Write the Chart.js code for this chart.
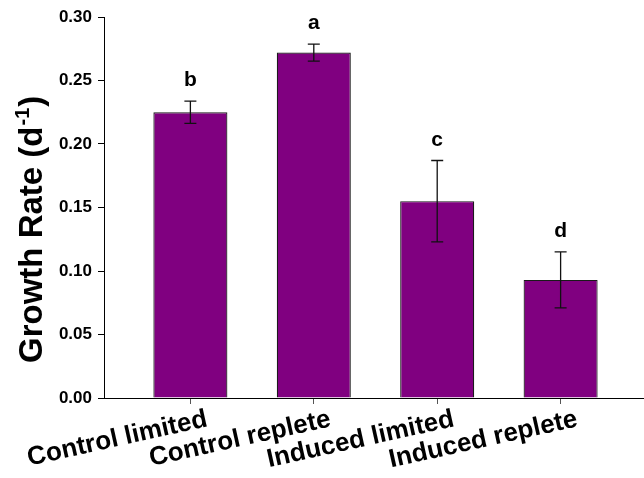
<!DOCTYPE html>
<html>
<head>
<meta charset="utf-8">
<script src="https://cdn.jsdelivr.net/npm/chart.js@4"></script>
<style>
  html, body { margin: 0; padding: 0; background: #fff; overflow: hidden; }
  #wrap { width: 650px; height: 478px; position: relative; }
</style>
</head>
<body>
<div id="wrap"><canvas id="c" width="650" height="478"></canvas></div>
<script>
// ---- data ----
const categories = ['Control limited', 'Control replete', 'Induced limited', 'Induced replete'];
const positions = [1, 2, 3, 4];
const growthRate = [0.225, 0.272, 0.155, 0.093];
const growthErr = [0.0088, 0.0067, 0.032, 0.022];
const sigLetters = ['b', 'a', 'c', 'd'];
const yTicks = [0.00, 0.05, 0.10, 0.15, 0.20, 0.25, 0.30];
const yTitle = 'Growth Rate (d';
const yTitleSup = '-1';

const FONT = '"Liberation Sans", Arial, Helvetica, sans-serif';

const overlay = {
  id: 'overlay',
  afterDatasetsDraw(chart) {
    const ctx = chart.ctx;
    const xs = chart.scales.x, ys = chart.scales.y;
    ctx.save();
    positions.forEach((p, i) => {
      const px = xs.getPixelForValue(p);
      const top = ys.getPixelForValue(growthRate[i] + growthErr[i]);
      const bot = ys.getPixelForValue(growthRate[i] - growthErr[i]);
      ctx.strokeStyle = '#111';
      ctx.lineWidth = 1.3;
      ctx.beginPath();
      ctx.moveTo(px, top); ctx.lineTo(px, bot);
      ctx.moveTo(px - 6, top); ctx.lineTo(px + 6, top);
      ctx.moveTo(px - 6, bot); ctx.lineTo(px + 6, bot);
      ctx.stroke();
      ctx.fillStyle = '#000';
      ctx.font = 'bold 21px ' + FONT;
      ctx.textAlign = 'center';
      ctx.textBaseline = 'alphabetic';
      ctx.fillText(sigLetters[i], px, top - 15);
    });
    ctx.restore();
  },
  afterDraw(chart) {
    const ctx = chart.ctx;
    const xs = chart.scales.x;
    ctx.save();
    // x category labels, rotated
    ctx.fillStyle = '#000';
    ctx.font = 'bold 26px ' + FONT;
    ctx.textAlign = 'right';
    ctx.textBaseline = 'alphabetic';
    positions.forEach((p, i) => {
      const px = xs.getPixelForValue(p);
      ctx.save();
      ctx.translate(px + 18, chart.chartArea.bottom + 28);
      ctx.rotate(-12.5 * Math.PI / 180);
      ctx.fillText(categories[i], 0, 0);
      ctx.restore();
    });
    // y title with superscript
    ctx.save();
    ctx.translate(42, 363);
    ctx.rotate(-Math.PI / 2);
    ctx.textAlign = 'left';
    ctx.font = 'bold 33px ' + FONT;
    ctx.fillText(yTitle, 0, 0);
    let w = ctx.measureText(yTitle).width;
    ctx.font = 'bold 20px ' + FONT;
    ctx.fillText(yTitleSup, w + 1, -13);
    w += ctx.measureText(yTitleSup).width + 2;
    ctx.font = 'bold 33px ' + FONT;
    ctx.fillText(')', w, 0);
    ctx.restore();
    ctx.restore();
  }
};

new Chart(document.getElementById('c'), {
  type: 'bar',
  data: {
    datasets: [{
      data: positions.map((p, i) => ({ x: p, y: growthRate[i] })),
      backgroundColor: '#800080',
      borderColor: '#1a1a1a',
      borderWidth: 1.2,
      barPercentage: 0.6,
      categoryPercentage: 1.0
    }]
  },
  options: {
    responsive: false,
    animation: false,
    events: [],
    layout: { padding: { top: 17, right: 3, left: 0, bottom: 0 } },
    plugins: { legend: { display: false }, tooltip: { enabled: false }, title: { display: false } },
    scales: {
      x: {
        type: 'linear',
        min: 0.3,
        max: 4.7,
        offset: false,
        z: 1,
        afterBuildTicks: s => { s.ticks = positions.map(v => ({ value: v })); },
        afterFit: s => { s.height = 80; },
        ticks: { display: false },
        grid: { offset: false, drawOnChartArea: false, drawTicks: true, tickLength: 6, color: '#555', lineWidth: 1 },
        border: { display: true, color: '#000', width: 1 }
      },
      y: {
        type: 'linear',
        min: 0,
        max: 0.3,
        z: 1,
        afterBuildTicks: s => { s.ticks = yTicks.map(v => ({ value: v })); },
        afterFit: s => { s.width = 104; },
        ticks: {
          color: '#000',
          padding: 6,
          font: { family: FONT, size: 17, weight: 'bold' },
          callback: v => Number(v).toFixed(2)
        },
        grid: { drawOnChartArea: false, drawTicks: true, tickLength: 6, color: '#000', lineWidth: 1 },
        border: { display: true, color: '#000', width: 1 }
      }
    }
  },
  plugins: [overlay]
});
</script>
</body>
</html>
